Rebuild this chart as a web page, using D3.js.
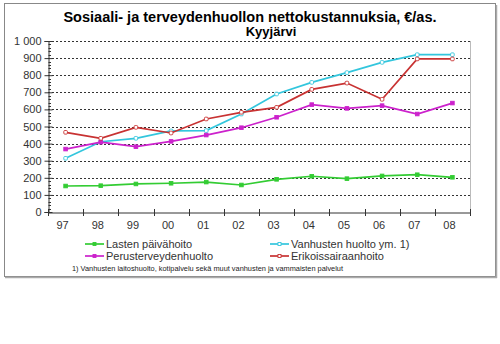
<!DOCTYPE html>
<html><head><meta charset="utf-8">
<script src="https://cdn.jsdelivr.net/npm/d3@7"></script>
<style>body{margin:0;background:#fff}svg{display:block}</style>
</head><body>
<script>
const years = ["97","98","99","00","01","02","03","04","05","06","07","08"];
const yTicks = [0,100,200,300,400,500,600,700,800,900,1000];
const lasten = [152,154,164,168,175,158,191,209,195,211,218,203];
const vanhusten = [314,411,431,474,476,573,690,758,815,875,920,920];
const perus = [368,408,382,413,450,493,554,628,606,622,573,637];
const erikois = [466,431,495,462,544,583,612,717,754,659,895,895];
const seriesNames = ["Lasten päivähoito","Vanhusten huolto ym. 1)","Perusterveydenhuolto","Erikoissairaanhoito"];
const title1 = "Sosiaali- ja terveydenhuollon nettokustannuksia, €/as.";
const title2 = "Kyyjärvi";
const footnote = "1) Vanhusten laitoshuolto, kotipalvelu sekä muut vanhusten ja vammaisten palvelut";

(function () {
const series = [
  {name: seriesNames[0], values: lasten, color: "#33cc33", filled: true},
  {name: seriesNames[1], values: vanhusten, color: "#33c6dd", filled: false},
  {name: seriesNames[2], values: perus, color: "#cc22cc", filled: true},
  {name: seriesNames[3], values: erikois, color: "#c83232", filled: false}
];

const W = 500, H = 344;
const svg = d3.select("body").append("svg").attr("width", W).attr("height", H);
const FF = "Arial, 'Liberation Sans', sans-serif";

// outer frame
svg.append("rect").attr("x", 4.5).attr("y", 3.5).attr("width", 491).attr("height", 273)
  .attr("fill", "#fff").attr("stroke", "#888").attr("stroke-width", 1);
svg.append("line").attr("x1", 496.5).attr("x2", 496.5).attr("y1", 5).attr("y2", 278).attr("stroke", "#aaa").attr("stroke-width", 1.5);
svg.append("line").attr("x1", 5).attr("x2", 497).attr("y1", 277.5).attr("y2", 277.5).attr("stroke", "#aaa").attr("stroke-width", 1.5);

const pl = 48, pr = 470, pt = 41, pb = 212;
const x = d3.scaleBand().domain(years).range([pl, pr]);
const y = d3.scaleLinear().domain([0, 1000]).range([pb, pt]);

// plot area border (right)
svg.append("line").attr("x1", pr + 0.5).attr("x2", pr + 0.5).attr("y1", pt).attr("y2", pb)
  .attr("stroke", "#bbb");

// gridlines
svg.append("g").selectAll("line").data(yTicks.filter(d => d > 0)).join("line")
  .attr("x1", pl).attr("x2", pr)
  .attr("y1", d => Math.round(y(d)) + 0.5).attr("y2", d => Math.round(y(d)) + 0.5)
  .attr("stroke", "#333").attr("stroke-dasharray", "2,2").attr("stroke-width", 1);

// y axis
const yAxis = d3.axisLeft(y).tickValues(yTicks).tickSize(4)
  .tickFormat(d => d === 1000 ? "1 000" : d);
const gy = svg.append("g").attr("transform", `translate(${pl + 0.5},0)`).call(yAxis);
gy.select(".domain").attr("stroke", "#333");
gy.selectAll(".tick line").attr("stroke", "#333").attr("x2", 4).attr("x1", -4);
gy.selectAll("text").attr("font-family", FF).attr("font-size", 11)
  .attr("fill", "#333").attr("x", -7);
// minor ticks
svg.append("g").selectAll("line").data(d3.range(0, 1000, 20).filter(d => d % 100 !== 0)).join("line")
  .attr("x1", pl + 0.5).attr("x2", pl + 3)
  .attr("y1", d => Math.round(y(d)) + 0.5).attr("y2", d => Math.round(y(d)) + 0.5)
  .attr("stroke", "#333");

// x axis
const xAxis = d3.axisBottom(x).tickSize(0);
const gx = svg.append("g").attr("transform", `translate(0,${pb + 0.5})`).call(xAxis);
gx.select(".domain").attr("stroke", "#333");
gx.selectAll("text").attr("font-family", FF).attr("font-size", 11)
  .attr("fill", "#333").attr("dy", "1.2em").attr("dx", -3);
svg.append("g").selectAll("line").data(d3.range(years.length + 1)).join("line")
  .attr("x1", i => Math.round(pl + i * x.step()) + 0.5).attr("x2", i => Math.round(pl + i * x.step()) + 0.5)
  .attr("y1", pb - 3).attr("y2", pb + 4).attr("stroke", "#333");

// lines
const line = d3.line().x((d, i) => x(years[i]) + x.bandwidth() / 2).y(d => y(d));
series.forEach(s => {
  const g = svg.append("g");
  g.append("path").attr("d", line(s.values)).attr("fill", "none").attr("stroke", s.color).attr("stroke-width", 1.7);
  g.selectAll("rect").data(s.values).join("rect")
    .attr("x", (d, i) => x(years[i]) + x.bandwidth() / 2 - 1.8)
    .attr("y", d => y(d) - 1.8).attr("width", 3.6).attr("height", 3.6)
    .attr("fill", s.filled ? s.color : "#fff").attr("stroke", s.color).attr("stroke-width", 0.9)
    .attr("rx", s.filled ? 0 : 1);
});

// titles
svg.append("text").attr("x", 250).attr("y", 22).attr("text-anchor", "middle")
  .attr("font-family", FF).attr("font-weight", "bold").attr("font-size", 14.5)
  .text(title1);
svg.append("text").attr("x", 271).attr("y", 36).attr("text-anchor", "middle")
  .attr("font-family", FF).attr("font-weight", "bold").attr("font-size", 13)
  .text(title2);

// legend
const legPos = [[85, 244], [270, 244], [85, 256], [270, 256]];
series.forEach((s, i) => {
  const [lx, ly] = legPos[i];
  svg.append("line").attr("x1", lx).attr("x2", lx + 19).attr("y1", ly).attr("y2", ly)
    .attr("stroke", s.color).attr("stroke-width", 1.7);
  svg.append("rect").attr("x", lx + 8).attr("y", ly - 1.5).attr("width", 3).attr("height", 3)
    .attr("fill", s.filled ? s.color : "#fff").attr("stroke", s.color).attr("stroke-width", 0.9);
  svg.append("text").attr("x", lx + 21).attr("y", ly + 4)
    .attr("font-family", FF).attr("font-size", 11).attr("fill", "#333")
    .text(s.name);
});
svg.append("text").attr("x", 72).attr("y", 271)
  .attr("font-family", FF).attr("font-size", 8).attr("fill", "#222")
  .attr("textLength", 271).attr("lengthAdjust", "spacingAndGlyphs")
  .text(footnote);
})();
</script>
</body></html>
